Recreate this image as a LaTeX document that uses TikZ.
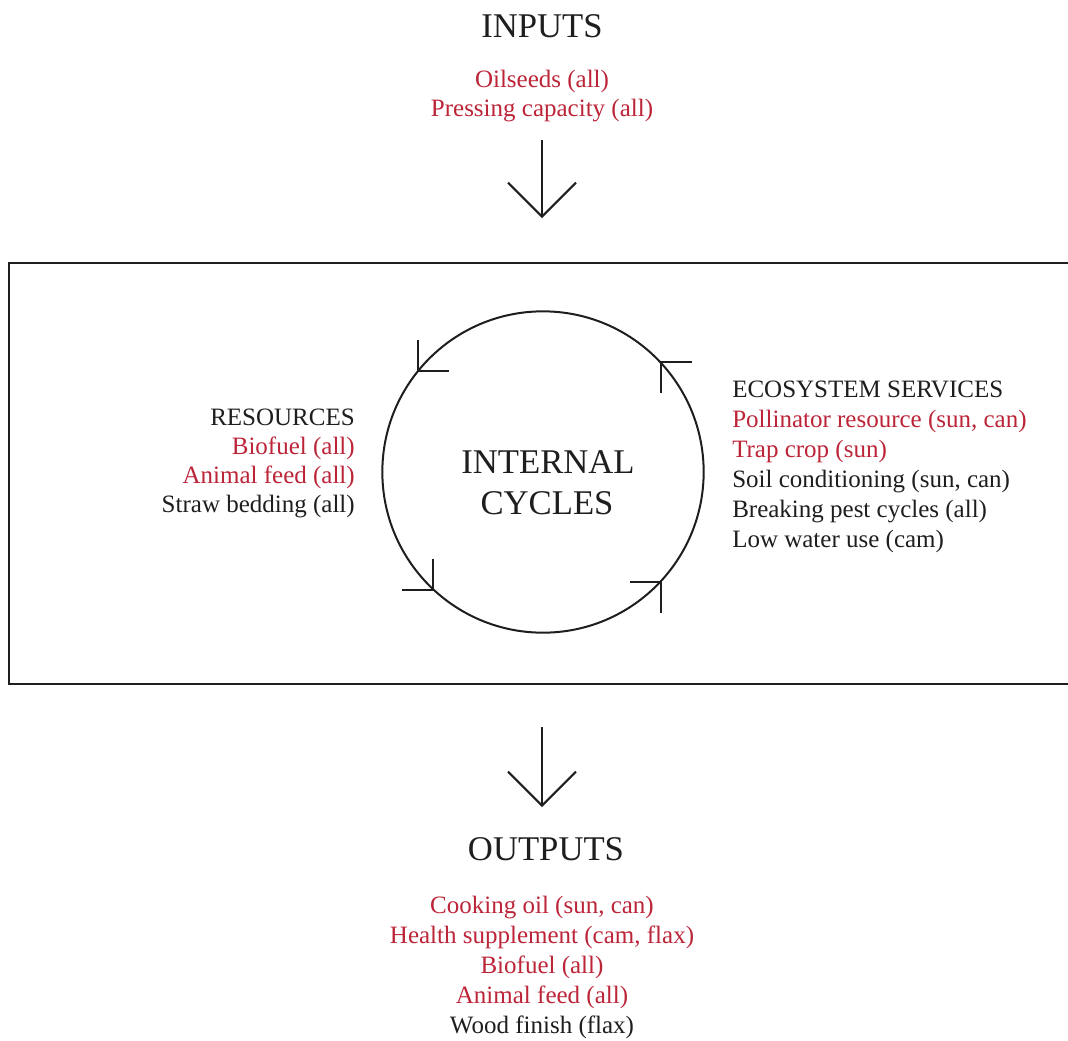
\documentclass[tikz,border=0pt]{standalone}
\usepackage{fontspec}
\setmainfont{Liberation Serif}
\usetikzlibrary{arrows.meta}
\definecolor{cropred}{RGB}{188,36,56}
\definecolor{inkgrey}{RGB}{30,30,30}
\tikzset{
  heading/.style = {font=\fontsize{26pt}{31pt}\selectfont, text=inkgrey, inner sep=0pt, anchor=base},
  item/.style = {font=\fontsize{18.75pt}{22.5pt}\selectfont, inner sep=0pt, anchor=base},
  flow/.style = {line width=1.5pt, draw=inkgrey, -{Straight Barb[length=25.5pt, width=51pt]}},
  tick/.style = {line width=1.5pt, draw=inkgrey}
}
\begin{document}
\begin{tikzpicture}[x=0.75pt, y=-0.75pt]
\useasboundingbox (0,0) rectangle (1068,1040);
% inputs
\node[heading] (inputs) at (542,37) {INPUTS};
\node[item, text=cropred] (in1) at (542,87) {Oilseeds (all)};
\node[item, text=cropred] (in2) at (542,116) {Pressing capacity (all)};
\coordinate (intail) at (542,140);
\coordinate (inhead) at (542,218);
\draw[flow] (intail) -- (inhead);
% farm box, open on the right
\draw[line width=2pt, draw=inkgrey] (9,263) rectangle (1085,684);
\node[draw=inkgrey, circle, line width=1.5pt, inner sep=0pt, outer sep=0pt, minimum size=241pt] (cycle) at (543,472) {};
\node[heading] (cyc1) at (548,473) {INTERNAL};
\node[heading] (cyc2) at (547,514) {CYCLES};
\foreach \a/\dx/\dy in {141/31/-31, 43/31/31, 227/-31/-31, 317/-31/31}
  \draw[tick] ([shift={(0,\dy)}]cycle.\a) -- (cycle.\a) -- ++(\dx,0);
% resources
\node[item, anchor=base east, text=inkgrey] (res) at (355,425) {RESOURCES};
\foreach \txt/\col [count=\i] in {{Biofuel (all)}/cropred, {Animal feed (all)}/cropred, {Straw bedding (all)}/inkgrey}
  \node[item, anchor=base east, text=\col] (res\i) at (355,425+29*\i) {\txt};
% ecosystem services
\node[item, anchor=base west, text=inkgrey] (eco) at (732,397) {ECOSYSTEM SERVICES};
\foreach \txt/\col [count=\i] in {{Pollinator resource (sun, can)}/cropred, {Trap crop (sun)}/cropred, {Soil conditioning (sun, can)}/inkgrey, {Breaking pest cycles (all)}/inkgrey, {Low water use (cam)}/inkgrey}
  \node[item, anchor=base west, text=\col] (eco\i) at (732,397+30*\i) {\txt};
% outputs
\coordinate (outtail) at (542,727);
\coordinate (outhead) at (542,807);
\draw[flow] (outtail) -- (outhead);
\node[heading] (outputs) at (546,860) {OUTPUTS};
\foreach \txt/\col [count=\i] in {{Cooking oil (sun, can)}/cropred, {Health supplement (cam, flax)}/cropred, {Biofuel (all)}/cropred, {Animal feed (all)}/cropred, {Wood finish (flax)}/inkgrey}
  \node[item, text=\col] (out\i) at (542,883+30*\i) {\txt};
\end{tikzpicture}
\end{document}
